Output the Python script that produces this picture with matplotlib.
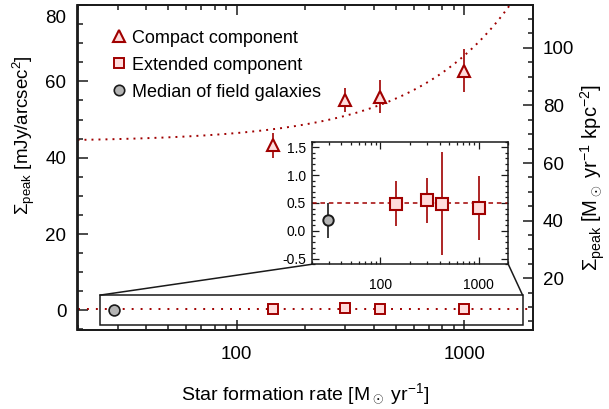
import numpy as np
import matplotlib
matplotlib.use("Agg")
import matplotlib.pyplot as plt
from matplotlib.patches import Rectangle, ConnectionPatch
from matplotlib.lines import Line2D
from matplotlib.transforms import offset_copy
from matplotlib.ticker import (LogLocator, MultipleLocator, NullFormatter, FixedLocator,
                               FixedFormatter, FormatStrFormatter)

plt.rcParams['font.family'] = ['Liberation Sans', 'DejaVu Sans']
plt.rcParams['mathtext.fontset'] = 'custom'
plt.rcParams['mathtext.rm'] = 'Liberation Sans'
plt.rcParams['mathtext.it'] = 'Liberation Sans:italic'
plt.rcParams['mathtext.bf'] = 'Liberation Sans:bold'

DARKRED = '#a00000'
PINK = '#ffdcdc'
GREY = '#b4b4b4'
AXCOL = '#1a1a1a'

# Measurements: star formation rate and peak surface brightness
sfr = [145, 300, 425, 1000]
compact = [43.2, 55.2, 56.0, 62.8]
compact_err = [3.2, 3.1, 4.3, 5.7]
extended = [0.49, 0.55, 0.49, 0.41]
extended_err = [0.40, 0.40, 0.92, 0.57]
field_sfr = [29]
field_peak = [0.19]
field_err = [0.31]

# Linear model for the compact component and constant level for the extended one
fit_intercept = 44.2
fit_slope = 0.0226
extended_level = 0.5

# Conversion of the left axis (mJy/arcsec^2) to the right axis (Msun/yr/kpc^2)
conv_offset = 8.8
conv_scale = 1.326

xlim = (20, 2000)
ylim = (-5, 80)
left_ticks = [0, 20, 40, 60, 80]
right_ticks = [20, 40, 60, 80, 100]
inset_ylim = (-0.6, 1.6)
zoom_box_x = (25.1, 1800)
zoom_box_y = (-3.85, 4.0)

W, H = 609, 409
fig = plt.figure(figsize=(W / 100, H / 100), dpi=100)

def fig_rect(x0, y0, x1, y1):
    return [x0 / W, (H - y1) / H, (x1 - x0) / W, (y1 - y0) / H]

ax = fig.add_axes(fig_rect(77.5, 5, 533, 329.5))
ax.set_xscale('log')
ax.set_xlim(*xlim)
ax.set_ylim(*ylim)

# model curve
grid = np.logspace(np.log10(xlim[0]), np.log10(xlim[1]), 400)
ax.plot(grid, fit_intercept + fit_slope * grid, color=DARKRED, lw=1.4,
        ls=(0, (1, 2.6)), zorder=2)
ax.axhline(extended_level, color=DARKRED, lw=1.4, ls=(0, (1, 3.6)), zorder=2)

# zoom box
ax.add_patch(Rectangle((zoom_box_x[0], zoom_box_y[0]),
                       zoom_box_x[1] - zoom_box_x[0], zoom_box_y[1] - zoom_box_y[0],
                       fill=False, ec=AXCOL, lw=1.1, zorder=3))

ax.errorbar(sfr, compact, yerr=compact_err, fmt='^', ms=9, mfc=PINK, mec=DARKRED,
            mew=1.5, ecolor=DARKRED, elinewidth=1.2, capsize=0, zorder=5)
ax.plot(sfr, extended, 's', ms=7.8, mfc=PINK, mec=DARKRED, mew=1.4, zorder=5)
ax.plot(field_sfr, field_peak, 'o', ms=7.8, mfc=GREY, mec=AXCOL, mew=1.2, zorder=5)

ax.xaxis.set_major_locator(FixedLocator([100, 1000]))
ax.xaxis.set_major_formatter(FixedFormatter(['100', '1000']))
ax.xaxis.set_minor_locator(LogLocator(base=10, subs=np.arange(2, 10)))
ax.xaxis.set_minor_formatter(NullFormatter())
ax.set_yticks(left_ticks)
# the top label sits a little below its tick so it stays inside the page
ax.set_yticklabels([str(v) for v in left_ticks[:-1]] + [''])
ax.yaxis.set_minor_locator(MultipleLocator(5))

ax.tick_params(which='both', direction='in', top=True, right=False,
               color=AXCOL, width=1.1)
ax.tick_params(which='major', length=7, labelsize=13.5)
ax.tick_params(which='minor', length=3.5)
ax.tick_params(axis='x', which='major', pad=12)
ax.tick_params(axis='y', which='major', pad=8)
for s in ax.spines.values():
    s.set_linewidth(1.3)
    s.set_color(AXCOL)
top_label_tr = offset_copy(ax.get_yaxis_transform(), fig=fig, x=-8, y=-10, units='points')
ax.text(0, left_ticks[-1], str(left_ticks[-1]), transform=top_label_tr,
        ha='right', va='center', fontsize=13.5)

ax.set_xlabel(r'Star formation rate [M$_\odot$ yr$^{-1}$]', fontsize=14)
ax.xaxis.set_label_coords(0.5, -0.16)
ax.set_ylabel(r'$\Sigma_{\rm peak}$ [mJy/arcsec$^2$]', fontsize=13.5)
ax.yaxis.set_label_coords(-0.088, 0.60)

ax2 = ax.twinx()
ax2.set_ylim(conv_offset + conv_scale * ylim[0], conv_offset + conv_scale * ylim[1])
ax2.set_yticks(right_ticks)
ax2.set_yticklabels([str(v) for v in right_ticks])
ax2.yaxis.set_minor_locator(MultipleLocator(5))
ax2.tick_params(which='both', direction='in', color=AXCOL, width=1.1)
ax2.tick_params(which='major', length=7, labelsize=13.5, pad=7)
ax2.tick_params(which='minor', length=3.5)
for s in ax2.spines.values():
    s.set_linewidth(1.3)
    s.set_color(AXCOL)
ax2.set_ylabel(r'$\Sigma_{\rm peak}$ [M$_\odot$ yr$^{-1}$ kpc$^{-2}$]', fontsize=14.5)
ax2.yaxis.set_label_coords(1.10, 0.47)

handles = [
    Line2D([], [], ls='none', marker='^', ms=8, mfc=PINK, mec=DARKRED, mew=1.5),
    Line2D([], [], ls='none', marker='s', ms=7.5, mfc=PINK, mec=DARKRED, mew=1.4),
    Line2D([], [], ls='none', marker='o', ms=7.5, mfc=GREY, mec=AXCOL, mew=1.2),
]
labels = ['Compact component', 'Extended component', 'Median of field galaxies']
ax2.legend(handles, labels, loc='upper left', bbox_to_anchor=(0.055, 0.946),
           frameon=False, fontsize=13, handlelength=1.0, handletextpad=0.25,
           labelspacing=0.55, borderaxespad=0)

# inset
axi = fig.add_axes(fig_rect(311.7, 141.7, 508.3, 264.3))
axi.set_zorder(10)
axi.set_facecolor('white')
axi.set_xscale('log')
axi.set_xlim(*xlim)
axi.set_ylim(*inset_ylim)
axi.axhline(extended_level, color=DARKRED, lw=1.1, ls=(0, (3, 2.5)), zorder=2)
axi.errorbar(sfr, extended, yerr=extended_err, fmt='s', ms=8.2, mfc=PINK, mec=DARKRED,
             mew=1.5, ecolor=DARKRED, elinewidth=1.2, capsize=0, zorder=5)
axi.errorbar(field_sfr, field_peak, yerr=field_err, fmt='o', ms=7.5, mfc=GREY, mec=AXCOL,
             mew=1.4, ecolor=AXCOL, elinewidth=1.2, capsize=0, zorder=5)
axi.xaxis.set_major_locator(FixedLocator([100, 1000]))
axi.xaxis.set_major_formatter(FixedFormatter(['100', '1000']))
axi.xaxis.set_minor_locator(LogLocator(base=10, subs=np.arange(2, 10)))
axi.xaxis.set_minor_formatter(NullFormatter())
axi.yaxis.set_major_locator(MultipleLocator(0.5))
axi.yaxis.set_minor_locator(MultipleLocator(0.1))
axi.yaxis.set_major_formatter(FormatStrFormatter('%.1f'))
axi.tick_params(which='both', direction='in', top=True, right=True, color=AXCOL, width=0.9)
axi.tick_params(which='major', length=5, labelsize=10)
axi.tick_params(which='minor', length=2.5)
axi.tick_params(axis='x', which='major', pad=10)
axi.tick_params(axis='y', which='major', pad=4)
for s in axi.spines.values():
    s.set_linewidth(1.1)
    s.set_color(AXCOL)

for (xa, xb) in [((zoom_box_x[0], zoom_box_y[1]), (0, 0)),
                 ((zoom_box_x[1], zoom_box_y[1]), (1, 0))]:
    con = ConnectionPatch(xyA=xa, coordsA=ax.transData, xyB=xb, coordsB=axi.transAxes,
                          color=AXCOL, lw=1.1, zorder=4)
    fig.add_artist(con)

fig.savefig('out.png', dpi=100)
